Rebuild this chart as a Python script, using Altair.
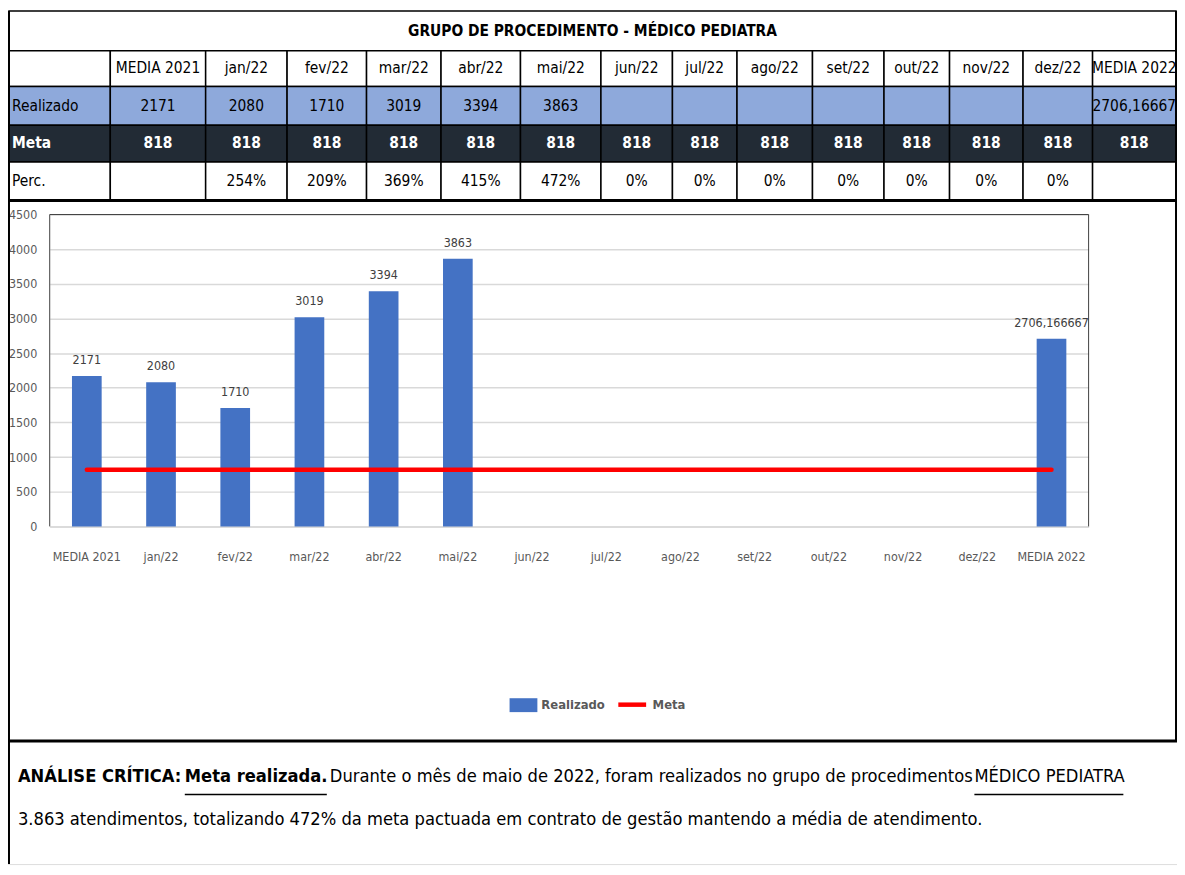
import altair as alt
import pandas as pd

# ---------------- data ----------------
TITLE = "GRUPO DE PROCEDIMENTO  - MÉDICO PEDIATRA"
CATEGORIES = ["MEDIA 2021", "jan/22", "fev/22", "mar/22", "abr/22", "mai/22", "jun/22",
              "jul/22", "ago/22", "set/22", "out/22", "nov/22", "dez/22", "MEDIA 2022"]
REALIZADO = [2171, 2080, 1710, 3019, 3394, 3863, None, None, None, None, None, None, None, 2706.166667]
BAR_LABELS = ["2171", "2080", "1710", "3019", "3394", "3863", "", "", "", "", "", "", "", "2706,166667"]
META = [818, 818, 818, 818, 818, 818, 818, 818, 818, 818, 818, 818, 818, 818]
REALIZADO_TABLE = ["2171", "2080", "1710", "3019", "3394", "3863", "", "", "", "", "", "", "", "2706,16667"]
META_TABLE = ["818"] * 14
PERC_TABLE = ["", "254%", "209%", "369%", "415%", "472%", "0%", "0%", "0%", "0%", "0%", "0%", "0%", ""]
ROW_LABELS = ["Realizado", "Meta", "Perc."]
Y_TICKS = [0, 500, 1000, 1500, 2000, 2500, 3000, 3500, 4000, 4500]
SERIES = ["Realizado", "Meta"]

LINE1 = [("ANÁLISE CRÍTICA:", "bold", False),
         ("Meta realizada.", "bold", True),
         ("Durante o mês de maio de 2022, foram realizados no grupo de procedimentos", "normal", False),
         ("MÉDICO PEDIATRA", "normal", True)]
LINE2 = "3.863 atendimentos, totalizando 472% da meta pactuada em contrato de gestão mantendo a média de atendimento."

# ---------------- layout / style ----------------
FONT = "DejaVu Sans Condensed, Liberation Sans Narrow, sans-serif"
W, H = 1177, 859
COL_WIDTHS = [102, 96, 82, 80, 75, 80, 81, 72, 65, 76, 72, 66, 74, 70, 84]
ROW_HEIGHTS = [40, 36, 39, 37, 38]
PLOT_L, PLOT_R, PLOT_T, PLOT_B = 42, 1088, 205, 519
BLUE = "#4472C4"
GREY_TXT = "#595959"
TFS = 15.5     # table font size
AFS = 18.3     # analysis font size
SEG_X = [10, 178, 324, 973]
SEG_W = [0, 143, 0, 150]

# ---------------- table ----------------
xe = [0]
for w in COL_WIDTHS:
    xe.append(xe[-1] + w)
ye = [0]
for h in ROW_HEIGHTS:
    ye.append(ye[-1] + h)

cells = [dict(x0=xe[0], x1=xe[-1], y0=ye[0], y1=ye[1], fill="#FFFFFF", text=TITLE,
              tcolor="#000000", bold=True, left=False)]
rows = [
    ([""] + CATEGORIES, "#FFFFFF", "#000000", False),
    ([ROW_LABELS[0]] + REALIZADO_TABLE, "#8EA9DB", "#000000", False),
    ([ROW_LABELS[1]] + META_TABLE, "#222B35", "#FFFFFF", True),
    ([ROW_LABELS[2]] + PERC_TABLE, "#FFFFFF", "#000000", False),
]
for ri, (vals, fill, tc, bold) in enumerate(rows, start=1):
    for ci, v in enumerate(vals):
        cells.append(dict(x0=xe[ci], x1=xe[ci + 1], y0=ye[ri], y1=ye[ri + 1], fill=fill, text=v,
                          tcolor=tc, bold=bold, left=(ci == 0)))
tdf = pd.DataFrame(cells)
tdf["xc"] = (tdf.x0 + tdf.x1) / 2
tdf["xl"] = tdf.x0 + 3
tdf["yc"] = (tdf.y0 + tdf.y1) / 2

xs = alt.Scale(domain=[0, xe[-1]], range=[1, 1 + xe[-1]], nice=False, zero=False)
ys = alt.Scale(domain=[0, ye[-1]], range=[0, ye[-1]], nice=False, zero=False)

t_rect = alt.Chart(tdf).mark_rect(stroke="#000000", strokeWidth=1.5).encode(
    x=alt.X("x0:Q", scale=xs, axis=None), x2="x1:Q",
    y=alt.Y("y0:Q", scale=ys, axis=None), y2="y1:Q",
    fill=alt.Fill("fill:N", scale=None))


def ttext(bold, left):
    d = tdf[(tdf.bold == bold) & (tdf.left == left) & (tdf.text != "")]
    return alt.Chart(d).mark_text(font=FONT, fontSize=TFS, fontWeight="bold" if bold else "normal",
                                  align="left" if left else "center", baseline="middle").encode(
        x=alt.X(("xl" if left else "xc") + ":Q", scale=xs, axis=None),
        y=alt.Y("yc:Q", scale=ys, axis=None),
        text="text:N",
        color=alt.Color("tcolor:N", scale=None))


table = alt.layer(t_rect, ttext(False, False), ttext(True, False), ttext(False, True), ttext(True, True))

# ---------------- bar chart ----------------
cdf = pd.DataFrame({"cat": CATEGORIES, "val": REALIZADO, "label": BAR_LABELS, "meta": META,
                    "s1": SERIES[0], "s2": SERIES[1]})
xb = alt.Scale(domain=CATEGORIES, range=[PLOT_L, PLOT_R], paddingInner=0.6, paddingOuter=0.3)
yb = alt.Scale(domain=[0, 4500], range=[PLOT_B, PLOT_T], nice=False, zero=True)

x_enc = alt.X("cat:N", sort=CATEGORIES, scale=xb, title=None,
              axis=alt.Axis(orient="bottom", offset=-(H - PLOT_B), labelAngle=0, labelFont=FONT,
                            labelFontSize=12.5, labelColor=GREY_TXT, ticks=False, domainColor="#D9D9D9",
                            domainWidth=1.5, labelPadding=24, grid=False))
y_enc = alt.Y("val:Q", scale=yb, title=None,
              axis=alt.Axis(orient="left", offset=-PLOT_L, values=Y_TICKS, format="d", labelFont=FONT,
                            labelFontSize=12.5, labelColor=GREY_TXT, ticks=False, domain=False,
                            labelPadding=13, grid=True, gridColor="#D9D9D9", gridWidth=1.5))

bars = alt.Chart(cdf).mark_bar().encode(
    x=x_enc, y=y_enc,
    fill=alt.Fill("s1:N", scale=alt.Scale(domain=[SERIES[0]], range=[BLUE]),
                  legend=alt.Legend(orient="none", legendX=505, legendY=685, title=None,
                                    symbolType="M-1,-0.5H1V0.5H-1Z", symbolSize=784, symbolStrokeWidth=0,
                                    labelFont=FONT, labelFontSize=13, labelFontWeight="bold",
                                    labelColor=GREY_TXT, labelOffset=4)))
labels = alt.Chart(cdf).mark_text(font=FONT, fontSize=12.5, color="#404040", baseline="bottom", dy=-9).encode(
    x=alt.X("cat:N", sort=CATEGORIES, scale=xb), y=alt.Y("val:Q", scale=yb), text="label:N")
meta_line = alt.Chart(cdf).mark_line(strokeWidth=4.5, strokeCap="round").encode(
    x=alt.X("cat:N", sort=CATEGORIES, scale=xb), y=alt.Y("meta:Q", scale=yb),
    stroke=alt.Stroke("s2:N", scale=alt.Scale(domain=[SERIES[1]], range=["#FF0000"]),
                      legend=alt.Legend(orient="none", legendX=612, legendY=682, title=None,
                                        symbolType="stroke", symbolSize=784, symbolStrokeWidth=4.5,
                                        labelFont=FONT, labelFontSize=13, labelFontWeight="bold",
                                        labelColor=GREY_TXT, labelOffset=4)))
barchart = alt.layer(bars, labels, meta_line)

# ---------------- frame lines ----------------
one = pd.DataFrame({"a": [0]})


def rule(x, x2, y, y2, w, c="#000000"):
    return alt.Chart(one).mark_rule(color=c, strokeWidth=w).encode(
        x=alt.value(x), x2=alt.value(x2), y=alt.value(y), y2=alt.value(y2))


frame = alt.layer(
    rule(PLOT_L, PLOT_R, PLOT_T, PLOT_T, 1, "#404040"),
    rule(PLOT_L, PLOT_L, PLOT_T, PLOT_B, 1, "#404040"),
    rule(PLOT_R, PLOT_R, PLOT_T, PLOT_B, 1, "#404040"),
    rule(1, 1, 0, H, 2),
    rule(1176, 1176, 0, 735, 2),
    rule(0, W, 191, 191, 3),
    rule(0, W, 735, 735, 3),
)

# ---------------- analysis text ----------------
segs = []
for (txt, wt, und), x, sw in zip(LINE1, SEG_X, SEG_W):
    segs.append(alt.Chart(one).mark_text(text=txt, font=FONT, fontSize=AFS, fontWeight=wt, align="left",
                                         baseline="middle", color="#000000").encode(
        x=alt.value(x), y=alt.value(771)))
    if und:
        segs.append(rule(x, x + sw, 789, 789, 1.5))
segs.append(alt.Chart(one).mark_text(text=LINE2, font=FONT, fontSize=AFS, align="left",
                                     baseline="middle", color="#000000").encode(
    x=alt.value(10), y=alt.value(815)))
textblock = alt.layer(*segs)

chart = alt.layer(table, barchart, frame, textblock).resolve_scale(
    x="independent", y="independent"
).properties(
    width=W, height=H, autosize=alt.AutoSizeParams(type="none"), padding=0
).configure_view(stroke=None).configure(font=FONT)

chart.save("out.html", embed_options={"renderer": "svg", "actions": False})
